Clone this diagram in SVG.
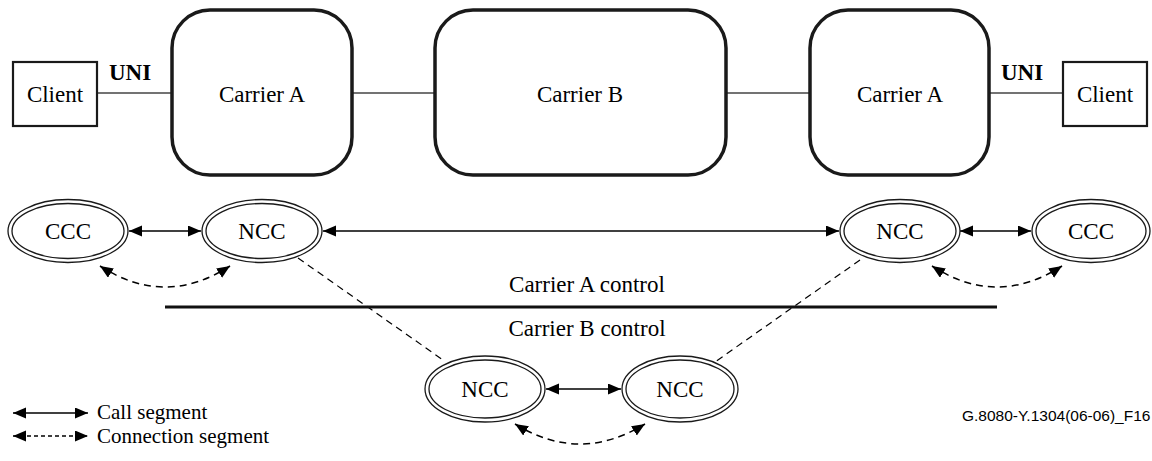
<svg xmlns="http://www.w3.org/2000/svg" width="1152" height="461" viewBox="0 0 1152 461">
<style>
.t{font-family:"Liberation Serif","Times New Roman",serif;font-size:23px;fill:#000;text-anchor:middle}
.b{font-weight:bold}
.box{fill:#fff;stroke:#1a1a1a;stroke-width:3.5}
.cl{fill:#fff;stroke:#1a1a1a;stroke-width:2.2}
.el{fill:none;stroke:#1a1a1a;stroke-width:1.3}
.ln{stroke:#444;stroke-width:1.6;fill:none}
.ar{stroke:#000;stroke-width:1.5;fill:none;marker-start:url(#ah);marker-end:url(#ah)}
.da{stroke:#000;stroke-width:1.5;fill:none;stroke-dasharray:7 5;marker-start:url(#ah);marker-end:url(#ah)}
.dl{stroke:#000;stroke-width:1.2;fill:none;stroke-dasharray:7 5}
</style>
<defs>
<marker id="ah" markerUnits="userSpaceOnUse" markerWidth="14" markerHeight="12" refX="13" refY="5.5" orient="auto-start-reverse">
<path d="M0,0 L13,5.5 L0,11 z" fill="#000"/>
</marker>
</defs>
<g id="connectors">
<line class="ln" x1="97" y1="93" x2="172" y2="93"/>
<line class="ln" x1="352" y1="93" x2="435" y2="93"/>
<line class="ln" x1="726" y1="93" x2="810" y2="93"/>
<line class="ln" x1="989" y1="93" x2="1063" y2="93"/>
<line class="ar" x1="129" y1="231" x2="201" y2="231"/>
<line class="ar" x1="323" y1="231" x2="839" y2="231"/>
<line class="ar" x1="960" y1="231" x2="1031" y2="231"/>
<line class="ar" x1="546" y1="389" x2="621" y2="389"/>
<path class="da" d="M100,266 Q165,308 230,266"/>
<path class="da" d="M932,266 Q997,308 1062,266"/>
<path class="da" d="M515,424 Q580,464 645,424"/>
<line class="dl" x1="298" y1="258" x2="443" y2="360"/>
<line class="dl" x1="860" y1="260" x2="715" y2="362"/>
<line x1="165" y1="307" x2="997" y2="307" stroke="#111" stroke-width="3"/>
</g>
<g id="client-left"><rect class="cl" x="13" y="62" width="84" height="64"/><text class="t" x="55" y="102">Client</text></g>
<g id="uni-left"><text class="t b" x="130" y="80">UNI</text></g>
<g id="carrierA-left"><rect class="box" x="172" y="10" width="180" height="165" rx="38"/><text class="t" x="262" y="102">Carrier A</text></g>
<g id="carrierB"><rect class="box" x="435" y="10" width="291" height="165" rx="38"/><text class="t" x="580" y="102">Carrier B</text></g>
<g id="carrierA-right"><rect class="box" x="810" y="10" width="179" height="165" rx="38"/><text class="t" x="900" y="102">Carrier A</text></g>
<g id="uni-right"><text class="t b" x="1022" y="80">UNI</text></g>
<g id="client-right"><rect class="cl" x="1063" y="62" width="84" height="64"/><text class="t" x="1105" y="102">Client</text></g>
<g id="ccc-left"><ellipse class="el" cx="68" cy="231" rx="60" ry="31.5"/><ellipse class="el" cx="68" cy="231" rx="56" ry="27.5"/><text class="t" x="68" y="239">CCC</text></g>
<g id="ncc-left"><ellipse class="el" cx="262" cy="231" rx="60" ry="31.5"/><ellipse class="el" cx="262" cy="231" rx="56" ry="27.5"/><text class="t" x="262" y="239">NCC</text></g>
<g id="ncc-right"><ellipse class="el" cx="900" cy="231" rx="60" ry="31.5"/><ellipse class="el" cx="900" cy="231" rx="56" ry="27.5"/><text class="t" x="900" y="239">NCC</text></g>
<g id="ccc-right"><ellipse class="el" cx="1091" cy="231" rx="59" ry="31.5"/><ellipse class="el" cx="1091" cy="231" rx="55" ry="27.5"/><text class="t" x="1091" y="239">CCC</text></g>
<g id="ncc-bottom-left"><ellipse class="el" cx="485" cy="389" rx="60" ry="33"/><ellipse class="el" cx="485" cy="389" rx="56" ry="29"/><text class="t" x="485" y="397">NCC</text></g>
<g id="ncc-bottom-right"><ellipse class="el" cx="680" cy="389" rx="58" ry="33"/><ellipse class="el" cx="680" cy="389" rx="54" ry="29"/><text class="t" x="680" y="397">NCC</text></g>
<g id="labels">
<text class="t" x="587" y="292">Carrier A control</text>
<text class="t" x="587" y="336">Carrier B control</text>
<text x="962" y="421" font-family="Liberation Sans, Arial, sans-serif" font-size="15.5">G.8080-Y.1304(06-06)_F16</text>
</g>
<g id="legend">
<line class="ar" x1="13" y1="413" x2="88" y2="413"/>
<line x1="13" y1="436" x2="88" y2="436" stroke="#000" stroke-width="1.3" stroke-dasharray="4 3" marker-start="url(#ah)" marker-end="url(#ah)"/>
<text class="t" x="97" y="419" style="text-anchor:start;font-size:21px">Call segment</text>
<text class="t" x="97" y="443" style="text-anchor:start;font-size:21px">Connection segment</text>
</g>
</svg>
